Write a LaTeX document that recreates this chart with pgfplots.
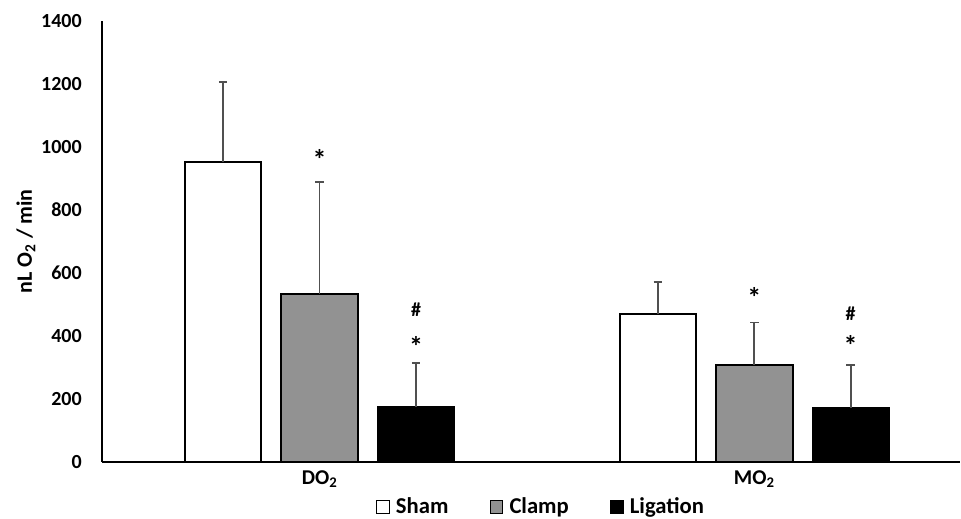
\documentclass[border=0pt]{standalone}
\usepackage{fontspec}
\setmainfont{Carlito}
\usepackage{pgfplots}
\pgfplotsset{compat=1.18}
\usepackage{pgfplotstable}
\definecolor{clampgray}{RGB}{146,146,146}
\definecolor{errgray}{RGB}{80,80,80}
\newcommand\ff{\bfseries\fontsize{15}{18}\selectfont}
\newcommand\fl{\bfseries\fontsize{16.5}{19}\selectfont}
\newcommand\fg{\bfseries\fontsize{17}{20}\selectfont}
\newcommand\fs{\bfseries\fontsize{21}{24}\selectfont}

\pgfplotstableread{
x y e
0 950 255
1 469 102
}\sham
\pgfplotstableread{
x y e
0 534 354
1 308 134
}\clamp
\pgfplotstableread{
x y e
0 175 139
1 172 136
}\ligation

\begin{document}
\begin{tikzpicture}
\begin{axis}[
  scale only axis, width=644.25pt, height=331.2pt,
  xmin=-0.501, xmax=1.474, ymin=0, ymax=1400,
  ytick={0,200,...,1400},
  xtick={0,1}, xticklabels={DO\textsubscript{2}, MO\textsubscript{2}},
  major tick length=0pt,
  axis lines*=left,
  axis line style={line width=1.1pt, black},
  /pgf/number format/assume math mode=true,
  /pgf/number format/1000 sep={},
  tick label style={font=\ff, black},
  yticklabel style={inner sep=0pt, xshift=-15pt},
  xticklabel style={inner sep=0pt, yshift=-6.5pt, font=\bfseries\fontsize{15.8}{18}\selectfont},
  ylabel={nL O\textsubscript{2} / min},
  ylabel style={font=\fl, at={(axis description cs:-0.0885,0.5)}, anchor=center},
  ybar=15pt, bar width=57.4pt,
  clip=false,
  legend image code/.code={\draw[#1, line width=0.7pt] (0pt,-4.7pt) rectangle (9.4pt,4.7pt);
     \path[draw=none, fill=none] (9.4pt,0pt) -- (12.5pt,0pt);},
  legend style={draw=none, fill=none, font=\fg, legend columns=-1,
    at={(0.512,-0.102)}, anchor=center, inner sep=0pt,
    /tikz/every even column/.append style={column sep=29pt}},
  error bars/y dir=plus, error bars/y explicit,
  error bars/error bar style={line width=1.2pt, errgray},
  error bars/error mark options={line width=1.2pt, errgray, mark size=3.2pt, rotate=90},
]
\addplot[draw=black, line width=1.5pt, fill=white] table[x=x, y=y, y error=e] {\sham};
\addplot[draw=black, line width=1.5pt, fill=clampgray] table[x=x, y=y, y error=e] {\clamp};
\addplot[draw=black, line width=1.5pt, fill=black] table[x=x, y=y, y error=e] {\ligation};
\legend{Sham, Clamp, Ligation}
\node[font=\fs] at (axis cs:0,960) {*};
\node[font=\ff] at (axis cs:0.2218,483) {\#};
\node[font=\fs] at (axis cs:0.2218,365) {*};
\node[font=\fs] at (axis cs:1,523) {*};
\node[font=\ff] at (axis cs:1.2218,469) {\#};
\node[font=\fs] at (axis cs:1.2218,369) {*};
\end{axis}
\path[use as bounding box] (-76.5pt,-42.5pt) rectangle (644.25pt,346.7pt);
\end{tikzpicture}
\end{document}
